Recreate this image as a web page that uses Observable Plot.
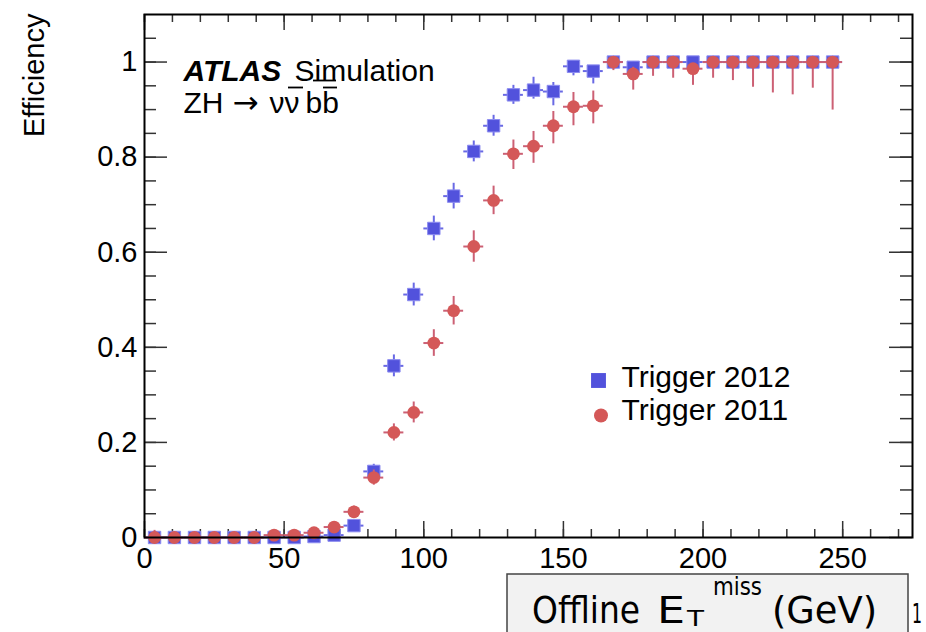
<!DOCTYPE html>
<html><head><meta charset="utf-8">
<script src="https://cdn.jsdelivr.net/npm/d3@7"></script>
<script src="https://cdn.jsdelivr.net/npm/@observablehq/plot@0.6"></script>
<style>body{margin:0;background:#fff;overflow:hidden}#chart{width:926px;height:632px}</style>
</head><body><div id="chart"></div>
<script>
// ---- data ----
const binCenters = [3.6,10.7,17.9,25.0,32.1,39.3,46.4,53.6,60.7,67.9,75.0,82.1,89.3,96.4,103.6,110.7,117.9,125.0,132.1,139.3,146.4,153.6,160.7,167.9,175.0,182.1,189.3,196.4,203.6,210.7,217.9,225.0,232.1,239.3,246.4];
const binHalfWidth = 3.57;
const eff2012 = [0,0,0,0,0,0,0,0,0.002,0.005,0.025,0.139,0.361,0.511,0.650,0.718,0.812,0.866,0.931,0.941,0.938,0.991,0.981,1.0,0.989,1,1,1,1,1,1,1,1,1,1];
const err2012Low = [0,0,0,0,0,0,0,0,0.002,0.004,0.008,0.015,0.023,0.024,0.026,0.027,0.022,0.022,0.02,0.019,0.03,0.02,0.027,0,0.014,0,0,0,0,0,0,0,0,0,0];
const err2012High = [0,0,0,0,0,0,0,0,0.002,0.004,0.008,0.015,0.023,0.024,0.026,0.027,0.022,0.022,0.02,0.027,0.019,0.009,0.01,0,0.011,0,0,0,0,0,0,0,0,0,0];
const eff2011 = [0,0,0,0,0,0,0.005,0.005,0.010,0.022,0.054,0.126,0.221,0.263,0.409,0.477,0.612,0.709,0.807,0.823,0.866,0.906,0.908,1.0,0.975,1.0,1.0,0.986,1,1,1,1,1,1,1];
const err2011Low = [0,0,0,0,0,0,0.005,0.005,0.008,0.01,0.012,0.016,0.018,0.022,0.028,0.03,0.033,0.03,0.033,0.036,0.038,0.04,0.038,0.018,0.034,0.03,0.034,0.035,0.034,0.039,0.053,0.065,0.069,0.055,0.101];
const err2011High = [0.015,0,0,0,0,0,0.005,0.005,0.008,0.01,0.012,0.016,0.018,0.022,0.028,0.03,0.033,0.03,0.029,0.031,0.03,0.03,0.031,0,0.014,0,0,0.01,0,0,0,0,0,0,0];
const seriesNames = ["Trigger 2012", "Trigger 2011"];
const xMajorTicks = [0,50,100,150,200,250];
const xMinorTicks = [0,10,20,30,40,50,60,70,80,90,100,110,120,130,140,150,160,170,180,190,200,210,220,230,240,250,260,270];
const yMajorTicks = [0,0.2,0.4,0.6,0.8,1];
const yTickLabels = ["0","0.2","0.4","0.6","0.8","1"];
const yMinorTicks = [0.05,0.1,0.15,0.2,0.25,0.3,0.35,0.4,0.45,0.5,0.55,0.6,0.65,0.7,0.75,0.8,0.85,0.9,0.95,1.0,1.05];

// ---- layout / style ----
const W = 926, H = 632, mL = 144, mR = 14, mT = 14, mB = 95;
const plotW = W - mL - mR, plotH = H - mT - mB;
const blue = "rgb(82,82,220)", blueEdge = "rgb(140,140,240)", blueBar = "rgb(105,105,228)";
const red = "rgb(212,88,88)", redBar = "rgb(204,96,116)";
const tickColor = "#333";
const helv = "'Liberation Sans', Arial, Helvetica, sans-serif";

const rows = (eff, lo, hi) => binCenters.map((x, i) => ({x, y: eff[i], lo: eff[i] - lo[i], hi: eff[i] + hi[i]}));
const d2012 = rows(eff2012, err2012Low, err2012High);
const d2011 = rows(eff2011, err2011Low, err2011High);

const label = (s, dx, dy, opts = {}) => Plot.text([s], {frameAnchor: "top-left", dx, dy, lineAnchor: "bottom", textAnchor: "start", fontSize: 30, ...opts});

const chart = Plot.plot({
  width: W, height: H,
  marginLeft: mL, marginRight: mR, marginTop: mT, marginBottom: mB,
  x: {domain: [0, 275], axis: null},
  y: {domain: [0, 1.1], axis: null},
  style: {fontFamily: helv, background: "white", color: "black"},
  marks: [
    // inward ticks (ROOT style)
    Plot.ruleX(xMajorTicks, {x: d => d, insetTop: plotH - 16, stroke: tickColor, strokeWidth: 1.5}),
    Plot.ruleX(xMajorTicks, {x: d => d, insetBottom: plotH - 16, stroke: tickColor, strokeWidth: 1.5}),
    Plot.ruleX(xMinorTicks, {x: d => d, insetTop: plotH - 8, stroke: tickColor, strokeWidth: 1.5}),
    Plot.ruleX(xMinorTicks, {x: d => d, insetBottom: plotH - 8, stroke: tickColor, strokeWidth: 1.5}),
    Plot.ruleY(yMajorTicks, {y: d => d, insetRight: plotW - 23, stroke: tickColor, strokeWidth: 1.5}),
    Plot.ruleY(yMajorTicks, {y: d => d, insetLeft: plotW - 23, stroke: tickColor, strokeWidth: 1.5}),
    Plot.ruleY(yMinorTicks, {y: d => d, insetRight: plotW - 12, stroke: tickColor, strokeWidth: 1.5}),
    Plot.ruleY(yMinorTicks, {y: d => d, insetLeft: plotW - 12, stroke: tickColor, strokeWidth: 1.5}),
    // tick labels
    Plot.text(xMajorTicks, {x: d => d, frameAnchor: "bottom", text: d => String(d), lineAnchor: "top", dy: 10, fontSize: 29}),
    Plot.text(yMajorTicks, {y: d => d, frameAnchor: "left", text: (d, i) => yTickLabels[i], textAnchor: "end", dx: -7, lineAnchor: "middle", fontSize: 29}),
    // y title
    Plot.text(["Efficiency"], {frameAnchor: "top-left", dx: -101, dy: -1, rotate: -90, textAnchor: "end", lineAnchor: "bottom", fontSize: 29}),
    // 2012 series
    Plot.ruleX(d2012.filter(d => d.hi > d.lo), {x: "x", y1: "lo", y2: "hi", stroke: blueBar, strokeWidth: 2}),
    Plot.ruleY(d2012, {y: "y", x1: d => d.x - binHalfWidth, x2: d => d.x + binHalfWidth, stroke: blueBar, strokeWidth: 2}),
    Plot.dot(d2012, {x: "x", y: "y", symbol: "square", r: 7, fill: blue, stroke: blueEdge, strokeWidth: 1}),
    // 2011 series
    Plot.ruleX(d2011.filter(d => d.hi > d.lo), {x: "x", y1: "lo", y2: "hi", stroke: redBar, strokeWidth: 2}),
    Plot.ruleY(d2011, {y: "y", x1: d => d.x - binHalfWidth, x2: d => d.x + binHalfWidth, stroke: redBar, strokeWidth: 2}),
    Plot.dot(d2011, {x: "x", y: "y", symbol: "circle", r: 6.4, fill: red}),
    // ATLAS label
    label("ATLAS", 39, 66, {fontWeight: "bold", fontStyle: "italic"}),
    label("Simulation", 150, 66),
    label("ZH", 39, 98),
    label("\u2192", 88, 98, {fontFamily: "'DejaVu Sans', sans-serif", fontSize: 31}),
    label("\u03bd\u03bd", 125, 98),
    label("bb", 161, 98),
    // legend
    Plot.dot([seriesNames[0]], {frameAnchor: "top-left", dx: 454, dy: 366, symbol: "square", r: 8.4, fill: blue}),
    Plot.dot([seriesNames[1]], {frameAnchor: "top-left", dx: 456.5, dy: 401, symbol: "circle", r: 7, fill: red}),
    Plot.text([seriesNames[0]], {frameAnchor: "top-left", dx: 477, dy: 372, text: d => d, lineAnchor: "bottom", textAnchor: "start", fontSize: 30}),
    Plot.text([seriesNames[1]], {frameAnchor: "top-left", dx: 477, dy: 405, text: d => d, lineAnchor: "bottom", textAnchor: "start", fontSize: 30}),
    Plot.frame({stroke: "#000", strokeWidth: 2})
  ]
});
document.getElementById("chart").appendChild(chart);

const svg = d3.select(chart);
// overbars of the anti-neutrino and anti-b (and the stray bar under "m")
const bars = svg.append("g").attr("stroke", "#000").attr("stroke-width", 1.8);
bars.append("line").attr("x1", 288).attr("x2", 303).attr("y1", 87.5).attr("y2", 87.5);
bars.append("line").attr("x1", 323).attr("x2", 337).attr("y1", 87.5).attr("y2", 87.5);
bars.append("line").attr("x1", 313).attr("x2", 336).attr("y1", 80.5).attr("y2", 80.5);

// x-axis title box (as in the reference slide)
const g = svg.append("g").attr("text-anchor", "start");
g.append("rect").attr("x", 507).attr("y", 574).attr("width", 401).attr("height", 80)
  .attr("fill", "#f2f2f2").attr("stroke", "#444").attr("stroke-width", 1.5);
const part = (s, x, y, size, len) => g.append("text").attr("x", x).attr("y", y).attr("font-size", size)
  .attr("text-anchor", "start")
  .attr("font-family", "'DejaVu Sans Condensed','DejaVu Sans',sans-serif").attr("fill", "#000")
  .attr("textLength", len).attr("lengthAdjust", "spacingAndGlyphs").text(s);
part("Offline", 532, 623, 38, 108);
part("E", 657, 623, 38, 28);
part("T", 687, 626, 22, 17);
part("miss", 713, 595, 24, 49);
part("(GeV)", 772, 623, 38, 105);
g.append("text").attr("x", 912).attr("y", 623).attr("font-size", 26).attr("text-anchor", "start")
  .attr("font-family", "'DejaVu Sans Condensed','DejaVu Sans',sans-serif")
  .attr("textLength", 10).attr("lengthAdjust", "spacingAndGlyphs").text("1");
</script>
</body></html>
